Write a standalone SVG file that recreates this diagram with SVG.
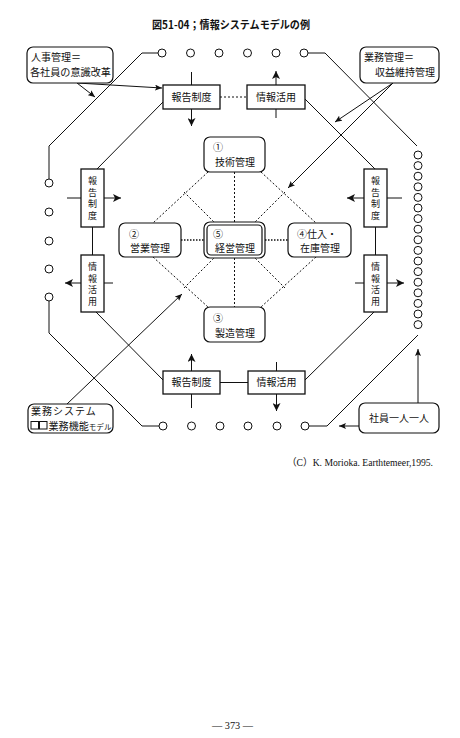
<svg xmlns="http://www.w3.org/2000/svg" width="460" height="738" viewBox="0 0 460 738">
<style>
  .bg{fill:#fff}
  .ln{fill:none;stroke:#111;stroke-width:1}
  .box{fill:#fff;stroke:#111;stroke-width:1.3}
  .rbox{fill:#fff;stroke:#111;stroke-width:1.2}
  .dot{fill:none;stroke:#111;stroke-width:1;stroke-dasharray:2,2}
  .dot2{fill:none;stroke:#111;stroke-width:1.6;stroke-dasharray:1.5,1.5}
  .c{fill:#fff;stroke:#111;stroke-width:1}
  .t{font-family:"Noto Sans CJK JP","Noto Sans",sans-serif;font-size:10px;fill:#111}
  .v{font-family:"Noto Sans CJK JP","Noto Sans",sans-serif;font-size:9px;fill:#111;text-anchor:middle}
  .tm{text-anchor:middle}
  .title{font-family:"Noto Sans CJK JP","Noto Sans",sans-serif;font-size:11px;font-weight:bold;fill:#111}
  .ser{font-family:"Liberation Serif","Noto Sans CJK JP",serif;font-size:10px;fill:#111}
</style>
<defs>
  <marker id="ah" markerWidth="8" markerHeight="8" refX="8" refY="4" orient="auto" markerUnits="userSpaceOnUse">
    <path d="M0,0 L8,4 L0,8 L2,4 Z" fill="#111"/>
  </marker>
  <marker id="as" markerWidth="7" markerHeight="6" refX="7" refY="3" orient="auto" markerUnits="userSpaceOnUse">
    <path d="M0,0 L7,3 L0,6 L1.5,3 Z" fill="#111"/>
  </marker>
</defs>
<rect class="bg" x="0" y="0" width="460" height="738"/>

<text class="title" x="152" y="29" textLength="158" lengthAdjust="spacingAndGlyphs">図51-04；情報システムモデルの例</text>

<g id="connectors">
  <path class="ln" d="M158,53 H142 L49,146 V179"/>
  <path class="ln" d="M49,301 V333 L142,426 H159"/>
  <path class="ln" d="M309,426 H327 L418,335"/>
  <path class="ln" d="M308,53 H325 L417,146"/>
  <line class="ln" x1="191.5" y1="72" x2="191.5" y2="85"/>
  <line class="ln" x1="191.5" y1="109" x2="191.5" y2="126" marker-end="url(#ah)"/>
  <line class="ln" x1="276" y1="85" x2="276" y2="71" marker-end="url(#ah)"/>
  <line class="ln" x1="276" y1="109" x2="276" y2="118"/>
  <line class="dot" x1="220" y1="97" x2="247" y2="97"/>
  <line class="ln" x1="67" y1="198" x2="81" y2="198"/>
  <line class="ln" x1="104" y1="198" x2="121" y2="198" marker-end="url(#ah)"/>
  <line class="ln" x1="81" y1="283" x2="65" y2="283" marker-end="url(#ah)"/>
  <line class="ln" x1="104" y1="283" x2="113" y2="283"/>
  <line class="ln" x1="92.5" y1="227" x2="92.5" y2="255"/>
  <line class="ln" x1="364" y1="198" x2="347" y2="198" marker-end="url(#ah)"/>
  <line class="ln" x1="387" y1="198" x2="402" y2="198"/>
  <line class="ln" x1="355" y1="283" x2="364" y2="283"/>
  <line class="ln" x1="387" y1="283" x2="404" y2="283" marker-end="url(#ah)"/>
  <line class="ln" x1="375.5" y1="227" x2="375.5" y2="255"/>
  <line class="ln" x1="191.5" y1="371" x2="191.5" y2="354" marker-end="url(#ah)"/>
  <line class="ln" x1="191.5" y1="394" x2="191.5" y2="408"/>
  <line class="ln" x1="276.5" y1="362" x2="276.5" y2="371"/>
  <line class="ln" x1="276.5" y1="394" x2="276.5" y2="411" marker-end="url(#ah)"/>
  <line class="ln" x1="220" y1="382.5" x2="248" y2="382.5"/>
  <line class="ln" x1="163" y1="102" x2="97" y2="169"/>
  <line class="ln" x1="305" y1="99" x2="375" y2="169"/>
  <line class="ln" x1="96" y1="312" x2="163" y2="380"/>
  <line class="ln" x1="374" y1="312" x2="305" y2="380"/>
  <line class="ln" x1="77" y1="83" x2="162" y2="88" marker-end="url(#as)"/>
  <line class="ln" x1="77" y1="83" x2="95" y2="97" marker-end="url(#as)"/>
  <line class="ln" x1="393" y1="83" x2="335" y2="122" marker-end="url(#as)"/>
  <line class="ln" x1="393" y1="83" x2="288" y2="188" marker-end="url(#as)"/>
  <line class="ln" x1="67" y1="404" x2="182" y2="294" marker-end="url(#as)"/>
  <line class="ln" x1="418" y1="403" x2="418" y2="349" marker-end="url(#as)"/>
  <line class="ln" x1="359" y1="426" x2="339" y2="426" marker-end="url(#as)"/>
  <line class="dot" x1="234.5" y1="172" x2="234.5" y2="222"/>
  <line class="dot" x1="234.5" y1="258" x2="234.5" y2="307"/>
  <line class="dot2" x1="181" y1="240" x2="204" y2="240"/>
  <line class="dot2" x1="265" y1="240" x2="288" y2="240"/>
  <line class="dot" x1="208" y1="172" x2="153" y2="223"/>
  <line class="dot" x1="261" y1="172" x2="316" y2="223"/>
  <line class="dot" x1="153" y1="257" x2="208" y2="307"/>
  <line class="dot" x1="316" y1="257" x2="261" y2="307"/>
  <line class="dot" x1="184" y1="192" x2="214" y2="222"/>
  <line class="dot" x1="285" y1="192" x2="255" y2="222"/>
  <line class="dot" x1="184" y1="288" x2="214" y2="258"/>
  <line class="dot" x1="285" y1="288" x2="255" y2="258"/>
</g>

<g id="circles-top">
  <circle class="c" cx="162" cy="53" r="4"/><circle class="c" cx="190.5" cy="53" r="4"/>
  <circle class="c" cx="219" cy="53" r="4"/><circle class="c" cx="247.5" cy="53" r="4"/>
  <circle class="c" cx="276" cy="53" r="4"/><circle class="c" cx="304" cy="53" r="4"/>
</g>
<g id="circles-left">
  <circle class="c" cx="49" cy="183" r="4"/><circle class="c" cx="49" cy="212" r="4"/>
  <circle class="c" cx="49" cy="241" r="4"/><circle class="c" cx="49" cy="269" r="4"/>
  <circle class="c" cx="49" cy="297" r="4"/>
</g>
<g id="circles-bottom">
  <circle class="c" cx="163" cy="426" r="4"/><circle class="c" cx="191.5" cy="426" r="4"/>
  <circle class="c" cx="220" cy="426" r="4"/><circle class="c" cx="248" cy="426" r="4"/>
  <circle class="c" cx="277" cy="426" r="4"/><circle class="c" cx="305" cy="426" r="4"/>
</g>
<g id="circles-right">
  <circle class="c" cx="418" cy="155" r="4"/><circle class="c" cx="418" cy="165.6" r="4"/>
  <circle class="c" cx="418" cy="176.2" r="4"/><circle class="c" cx="418" cy="186.8" r="4"/>
  <circle class="c" cx="418" cy="197.4" r="4"/><circle class="c" cx="418" cy="208" r="4"/>
  <circle class="c" cx="418" cy="218.6" r="4"/><circle class="c" cx="418" cy="229.2" r="4"/>
  <circle class="c" cx="418" cy="239.8" r="4"/><circle class="c" cx="418" cy="250.4" r="4"/>
  <circle class="c" cx="418" cy="261" r="4"/><circle class="c" cx="418" cy="271.6" r="4"/>
  <circle class="c" cx="418" cy="282.2" r="4"/><circle class="c" cx="418" cy="292.8" r="4"/>
  <circle class="c" cx="418" cy="303.4" r="4"/><circle class="c" cx="418" cy="314" r="4"/>
  <circle class="c" cx="418" cy="324.6" r="4"/>
</g>

<g id="top-report">
  <rect class="box" x="163" y="85" width="57" height="24"/>
  <text class="t tm" x="191.5" y="101">報告制度</text>
</g>
<g id="top-info">
  <rect class="box" x="247" y="85" width="58" height="24"/>
  <text class="t tm" x="276" y="101">情報活用</text>
</g>
<g id="left-report">
  <rect class="box" x="81" y="169" width="23" height="58"/>
  <text class="v" x="92.5" y="184">報</text><text class="v" x="92.5" y="195.5">告</text>
  <text class="v" x="92.5" y="207">制</text><text class="v" x="92.5" y="218.5">度</text>
</g>
<g id="left-info">
  <rect class="box" x="81" y="255" width="23" height="57"/>
  <text class="v" x="92.5" y="270">情</text><text class="v" x="92.5" y="281.5">報</text>
  <text class="v" x="92.5" y="293">活</text><text class="v" x="92.5" y="304.5">用</text>
</g>
<g id="right-report">
  <rect class="box" x="364" y="169" width="23" height="58"/>
  <text class="v" x="375.5" y="184">報</text><text class="v" x="375.5" y="195.5">告</text>
  <text class="v" x="375.5" y="207">制</text><text class="v" x="375.5" y="218.5">度</text>
</g>
<g id="right-info">
  <rect class="box" x="364" y="255" width="23" height="57"/>
  <text class="v" x="375.5" y="270">情</text><text class="v" x="375.5" y="281.5">報</text>
  <text class="v" x="375.5" y="293">活</text><text class="v" x="375.5" y="304.5">用</text>
</g>
<g id="bottom-report">
  <rect class="box" x="163" y="371" width="57" height="23"/>
  <text class="t tm" x="191.5" y="386">報告制度</text>
</g>
<g id="bottom-info">
  <rect class="box" x="248" y="371" width="57" height="23"/>
  <text class="t tm" x="276.5" y="386">情報活用</text>
</g>

<g id="m1">
  <rect class="rbox" x="204" y="137" width="61" height="35" rx="6"/>
  <text class="t" x="213" y="151">①</text>
  <text class="t tm" x="235" y="166">技術管理</text>
</g>
<g id="m2">
  <rect class="rbox" x="119" y="223" width="62" height="34" rx="6"/>
  <text class="t" x="129" y="238">②</text>
  <text class="t tm" x="150" y="252">営業管理</text>
</g>
<g id="m5">
  <rect class="rbox" x="204" y="222" width="61" height="36" rx="6"/>
  <rect class="rbox" x="207" y="225" width="55" height="30" rx="4"/>
  <text class="t" x="213" y="238">⑤</text>
  <text class="t tm" x="235" y="252">経営管理</text>
</g>
<g id="m4">
  <rect class="rbox" x="288" y="223" width="63" height="34" rx="6"/>
  <text class="t" x="297" y="238">④仕入・</text>
  <text class="t tm" x="320" y="252">在庫管理</text>
</g>
<g id="m3">
  <rect class="rbox" x="204" y="307" width="61" height="35" rx="6"/>
  <text class="t" x="213" y="322">③</text>
  <text class="t tm" x="235" y="337">製造管理</text>
</g>

<g id="note-hr">
  <rect class="rbox" x="27" y="47" width="86" height="36" rx="6"/>
  <text class="t" x="31" y="61">人事管理＝</text>
  <text class="t" x="30" y="76" textLength="81" lengthAdjust="spacingAndGlyphs">各社員の意識改革</text>
</g>
<g id="note-biz">
  <rect class="rbox" x="360" y="47" width="79" height="36" rx="6"/>
  <text class="t" x="364" y="61">業務管理＝</text>
  <text class="t" x="435" y="76" text-anchor="end">収益維持管理</text>
</g>
<g id="note-sys">
  <rect class="rbox" x="28" y="404" width="85" height="29" rx="6"/>
  <text class="t" x="31" y="415" font-size="9.5" letter-spacing="1">業務システム</text>
  <rect x="31" y="421.5" width="7.5" height="7.5" fill="none" stroke="#111" stroke-width="1"/>
  <rect x="39.5" y="421.5" width="7.5" height="7.5" fill="none" stroke="#111" stroke-width="1"/>
  <text class="t" x="48.5" y="429.5" font-size="9" textLength="63" lengthAdjust="spacingAndGlyphs">業務機能<tspan font-size="7.5">モデル</tspan></text>
</g>
<g id="note-emp">
  <rect class="rbox" x="359" y="403" width="80" height="30" rx="6"/>
  <text class="t tm" x="399" y="422">社員一人一人</text>
</g>

<text class="ser" x="287" y="466" textLength="146" lengthAdjust="spacingAndGlyphs">（C）K. Morioka. Earthtemeer,1995.</text>
<text class="ser" x="212" y="729" font-size="12" textLength="41" lengthAdjust="spacingAndGlyphs">— 373 —</text>
</svg>
